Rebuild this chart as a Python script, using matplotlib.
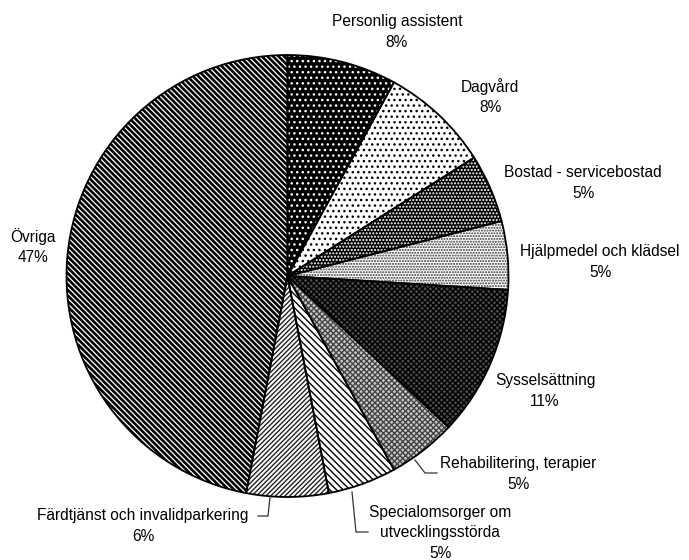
import numpy as np
import matplotlib.pyplot as plt

plt.rcParams['font.family'] = ['Liberation Sans', 'DejaVu Sans']

# andelar (%) medurs från kl 12
kategorier = ['Personlig assistent', 'Dagvård', 'Bostad - servicebostad',
              'Hjälpmedel och klädsel', 'Sysselsättning', 'Rehabilitering, terapier',
              'Specialomsorger om\nutvecklingsstörda', 'Färdtjänst och invalidparkering',
              'Övriga']
andelar = [8, 8, 5, 5, 11, 5, 5, 6, 47]

# fyllnad, mönster, mönsterfärg
fyll = ['black', 'white', 'black', 'white', '#4a4a4a', '#c8c8c8', 'white', 'white', 'white']
monster = ['...', '...', '.....', '......', 'xxxxxx', 'xxxxxx',
           '\\' * 5, '/' * 7, '\\' * 6]
monsterfarg = ['white', 'black', 'white', '#333333', 'black', '#444444', 'black', '#222222', 'black']
monsterbredd = [1.0, 1.0, 1.0, 1.0, 1.0, 1.0, 1.0, 1.0, 1.9]

W, H = 689, 560
fig = plt.figure(figsize=(W / 100, H / 100), dpi=100)
ax = fig.add_axes([0, 0, 1, 1])

cx, cy, r = 287.5, H - 276, 221

kilar, _ = ax.pie(andelar, startangle=90, counterclock=False,
                  center=(cx, cy), radius=r, colors=fyll,
                  wedgeprops=dict(linewidth=0))
for k, m, mf, lw in zip(kilar, monster, monsterfarg, monsterbredd):
    k.set_hatch(m)
    k.set_edgecolor(mf)
    if hasattr(k, 'set_hatch_linewidth'):
        k.set_hatch_linewidth(lw)

# konturer ovanpå
ax.pie(andelar, startangle=90, counterclock=False, center=(cx, cy), radius=r,
       wedgeprops=dict(fill=False, edgecolor='black', linewidth=1.3))

# etiketter, mitt av textblocket (x, y i pixlar uppifrån)
etikett_pos = [(397, 32), (490, 97), (583, 183), (600, 262), (545, 391),
               (518, 474), (440, 533), (143, 526), (33, 247)]
for namn, p, (x, y) in zip(kategorier, andelar, etikett_pos):
    ax.text(x, H - y, f'{namn}\n{p}%', ha='center', va='center', fontsize=11.2,
            linespacing=1.42)

# hänvisningslinjer
linjer = [
    ([415, 425, 437], [460, 473, 473]),
    ([352, 356, 368], [492, 532, 532]),
    ([270, 268, 258], [497, 516, 516]),
]
for xs, ys in linjer:
    ax.plot(xs, [H - v for v in ys], color='#333333', linewidth=0.9)

ax.set_xlim(0, W)
ax.set_ylim(0, H)
ax.set_aspect('equal')
ax.axis('off')

fig.savefig('out.png', dpi=100)
